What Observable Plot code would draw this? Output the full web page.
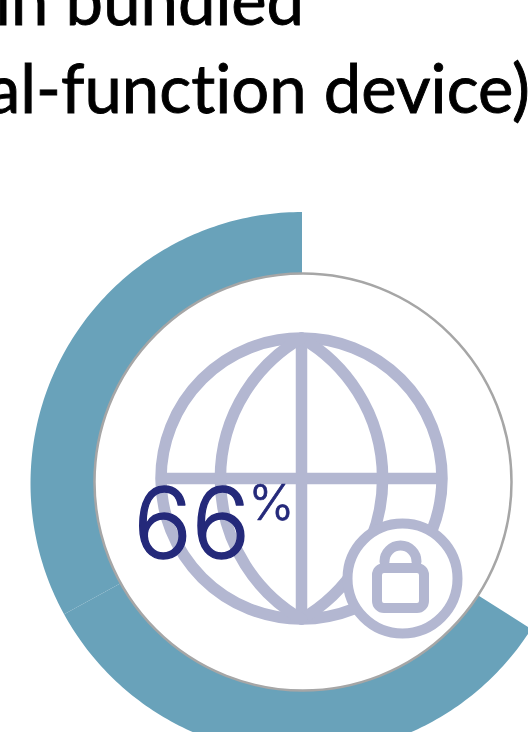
<!DOCTYPE html>
<html>
<head>
<meta charset="utf-8">
<script src="https://cdn.jsdelivr.net/npm/d3@7"></script>
<script src="https://cdn.jsdelivr.net/npm/@observablehq/plot@0.6"></script>
<style>
  html, body { margin: 0; padding: 0; background: #fff; width: 528px; height: 732px; overflow: hidden; }
  #page { position: relative; width: 528px; height: 732px; overflow: hidden; }
  #page svg { position: absolute; left: 0; top: 0; }
  .headline { position: absolute; white-space: nowrap; color: #000; margin: 0;
              font: 400 67px/88px Lato, sans-serif; font-variant-ligatures: none;
              -webkit-text-stroke: 0.9px #000; z-index: 2; }
</style>
</head>
<body>
<div id="page">
  <div class="headline" style="left:-5px;top:-45px;">in bundled</div>
  <div class="headline" style="left:-13px;top:43px;">al-function device)</div>
</div>
<script>
// Two stacked segments of the ring, in percent of the full circle.
const segmentLabels = ["first share", "second share"];
const segmentValues = [33, 33];
const percentSign = "%";

const width = 528, height = 732;
const ringCentre = { x: 302, y: 483.5 };
const discCentre = { x: 302.5, y: 481.5 };
const ringInner = 207, ringOuter = 271.5, discRadius = 208.5;
const teal = "#69a2ba", iconColor = "#b3b7d1", navy = "#24297a";

// Percent runs backwards from 12 o'clock, so the ring closes at the top.
const toAngle = d3.scaleLinear([0, 100], [2 * Math.PI, 0]);
function polar(angle, radius) {
  return [ringCentre.x + radius * Math.sin(angle), ringCentre.y - radius * Math.cos(angle)];
}

let running = 0;
const ringRows = segmentValues.flatMap((value, i) => {
  const start = running;
  running += value;
  const steps = Math.ceil(value * 4);
  return d3.range(steps + 1).map((k) => {
    const a = toAngle(start + (value * k) / steps);
    const [x1, y1] = polar(a, ringInner);
    const [x2, y2] = polar(a, ringOuter);
    return { segment: segmentLabels[i], x1, y1, x2, y2 };
  });
});

// Globe and padlock pictogram sit inside the ring.
const globe = { x: 301, y: 478, r: 140.5, meridianBend: 60 };
const lock = { x: 402, y: 578, r: 55 };
const globeStroke = 11.5, lockStroke = 10;

const chart = Plot.plot({
  width, height,
  margin: 0,
  style: { background: "transparent" },
  x: { domain: [0, width], range: [0, width], axis: null },
  y: { domain: [0, height], range: [0, height], axis: null },
  marks: [
    Plot.area(ringRows, { x1: "x1", y1: "y1", x2: "x2", y2: "y2", z: "segment", fill: teal }),
    Plot.dot([discCentre], {
      x: "x", y: "y", r: discRadius,
      fill: "white", stroke: "#a6a6a6", strokeWidth: 2.5
    }),
    // globe outline, equator, central meridian, curved meridians
    Plot.dot([globe], { x: "x", y: "y", r: globe.r, fill: "none", stroke: iconColor, strokeWidth: globeStroke }),
    Plot.link([globe], {
      x1: (d) => d.x - d.r, x2: (d) => d.x + d.r, y1: "y", y2: "y",
      stroke: iconColor, strokeWidth: globeStroke
    }),
    Plot.link([globe], {
      x1: "x", x2: "x", y1: (d) => d.y - d.r, y2: (d) => d.y + d.r,
      stroke: iconColor, strokeWidth: globeStroke
    }),
    ...[1, -1].map((side) => Plot.arrow([globe], {
      x1: "x", x2: "x", y1: (d) => d.y - d.r, y2: (d) => d.y + d.r,
      bend: side * globe.meridianBend, headLength: 0,
      stroke: iconColor, strokeWidth: globeStroke
    })),
    // padlock badge
    Plot.dot([lock], { x: "x", y: "y", r: lock.r, fill: "white", stroke: iconColor, strokeWidth: lockStroke }),
    Plot.arrow([lock], {
      x1: (d) => d.x - 18, x2: (d) => d.x + 14, y1: (d) => d.y - 17, y2: (d) => d.y - 17,
      bend: 90, headLength: 0, stroke: iconColor, strokeWidth: lockStroke
    }),
    Plot.rect([lock], {
      x1: (d) => d.x - 25, x2: (d) => d.x + 22, y1: (d) => d.y - 10, y2: (d) => d.y + 30,
      r: 7, fill: "white", stroke: iconColor, strokeWidth: lockStroke
    }),
    // headline figure, summed from the ring
    Plot.text([d3.sum(segmentValues)], {
      x: () => 133, y: () => 557, text: (d) => String(d),
      textAnchor: "start", lineAnchor: "bottom", dy: 0,
      fontFamily: "Inter", fontWeight: 300, fontSize: 97, fill: navy, stroke: navy, strokeWidth: 1.4
    }),
    Plot.text([percentSign], {
      x: () => 248, y: () => 519, text: (d) => d,
      textAnchor: "start", lineAnchor: "bottom", dy: 0,
      fontFamily: "Inter", fontWeight: 300, fontSize: 49, fill: navy, stroke: navy, strokeWidth: 0.7
    })
  ]
});
document.getElementById("page").prepend(chart);
</script>
</body>
</html>
